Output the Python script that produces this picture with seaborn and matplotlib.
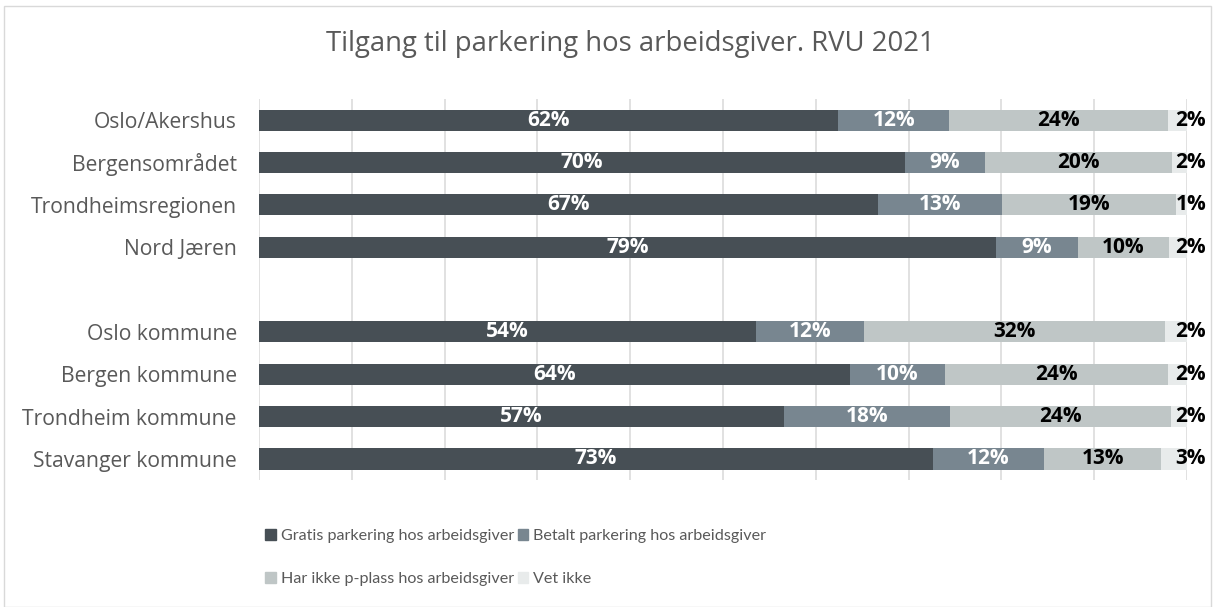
import matplotlib as mpl
mpl.use('agg')
import matplotlib.pyplot as plt
import numpy as np
import pandas as pd
import seaborn as sns
from matplotlib.patches import Patch, Rectangle

# data
regions = ['Oslo/Akershus', 'Bergensområdet', 'Trondheimsregionen', 'Nord Jæren',
           ' ', 'Oslo kommune', 'Bergen kommune', 'Trondheim kommune', 'Stavanger kommune']
series = ['Gratis parkering hos arbeidsgiver', 'Betalt parkering hos arbeidsgiver',
          'Har ikke p-plass hos arbeidsgiver', 'Vet ikke']
gratis = [62.4, 69.6, 66.7, 79.4, None, 53.6, 63.7, 56.6, 72.6]
betalt = [12.0, 8.6, 13.4, 8.8, None, 11.6, 10.2, 17.9, 12.0]
ikke_plass = [23.6, 20.2, 18.7, 9.9, None, 32.4, 24.1, 23.8, 12.6]
vet_ikke = [2.0, 1.6, 1.2, 1.9, None, 2.4, 2.0, 1.7, 2.8]

colors = ['#474f55', '#788690', '#bfc6c6', '#e8ebeb']
text_colors = ['white', 'white', 'black', 'black']

df = pd.DataFrame({'region': regions, series[0]: gratis, series[1]: betalt,
                   series[2]: ikke_plass, series[3]: vet_ikke}).dropna()
cum = df[series].cumsum(axis=1) / 100

sns.set_style('white')
plt.rcParams['font.family'] = ['Open Sans', 'DejaVu Sans']

fig = plt.figure(figsize=(12.13, 6.07), dpi=100)
ax = fig.add_axes([0.2135, 0.209, 0.7651, 0.628])

# stacked bars: draw the cumulative totals from the back to the front
for i in reversed(range(len(series))):
    sns.barplot(data=cum.assign(region=df['region']), x=series[i], y='region', order=regions,
                color=colors[i], saturation=1, width=0.5, linewidth=0, ax=ax, zorder=2)

# labels
ypos = {r: k for k, r in enumerate(regions)}
for _, row in df.iterrows():
    left = 0
    for i, s in enumerate(series):
        v = row[s] / 100
        x = left + v / 2 if i < 3 else 1.004
        ax.text(x, ypos[row['region']], f'{row[s]:.0f}%', ha='center', va='center',
                color=text_colors[i], fontsize=15, fontweight='bold', zorder=3)
        left += v

ax.set_xlim(0, 1)
ax.set_ylim(8.5, -0.5)
ax.set_xticks(np.arange(0, 1.01, 0.1))
ax.set_xticklabels([])
ax.grid(axis='x', color='#d9d9d9', linewidth=1.1, zorder=0)
ax.set_xlabel('')
ax.set_ylabel('')
ax.tick_params(axis='both', length=0)
ax.tick_params(axis='y', pad=16, labelsize=15.2, labelcolor='#595959')
sns.despine(ax=ax, left=True, bottom=True)

fig.text(0.52, 0.928, 'Tilgang til parkering hos arbeidsgiver. RVU 2021',
         ha='center', va='center', fontsize=19.8, color='#595959')

# legend, filled row by row
handles = [Patch(color=c, label=s) for c, s in zip(colors, series)]
order = [0, 2, 1, 3]
leg = fig.legend([handles[k] for k in order], [series[k] for k in order], ncol=2,
                 loc='upper left', bbox_to_anchor=(0.212, 0.142), frameon=False,
                 prop={'family': ['Lato', 'DejaVu Sans'], 'size': 11.6},
                 handlelength=0.65, handleheight=0.65, handletextpad=0.3,
                 labelspacing=1.8, columnspacing=0.25, borderpad=0)
for t in leg.get_texts():
    t.set_color('#595959')

# chart border
fig.patches.append(Rectangle((0.003, 0.0), 0.995, 0.99, transform=fig.transFigure,
                             fill=False, edgecolor='#d9d9d9', linewidth=1))

plt.savefig('out.png', dpi=100)
